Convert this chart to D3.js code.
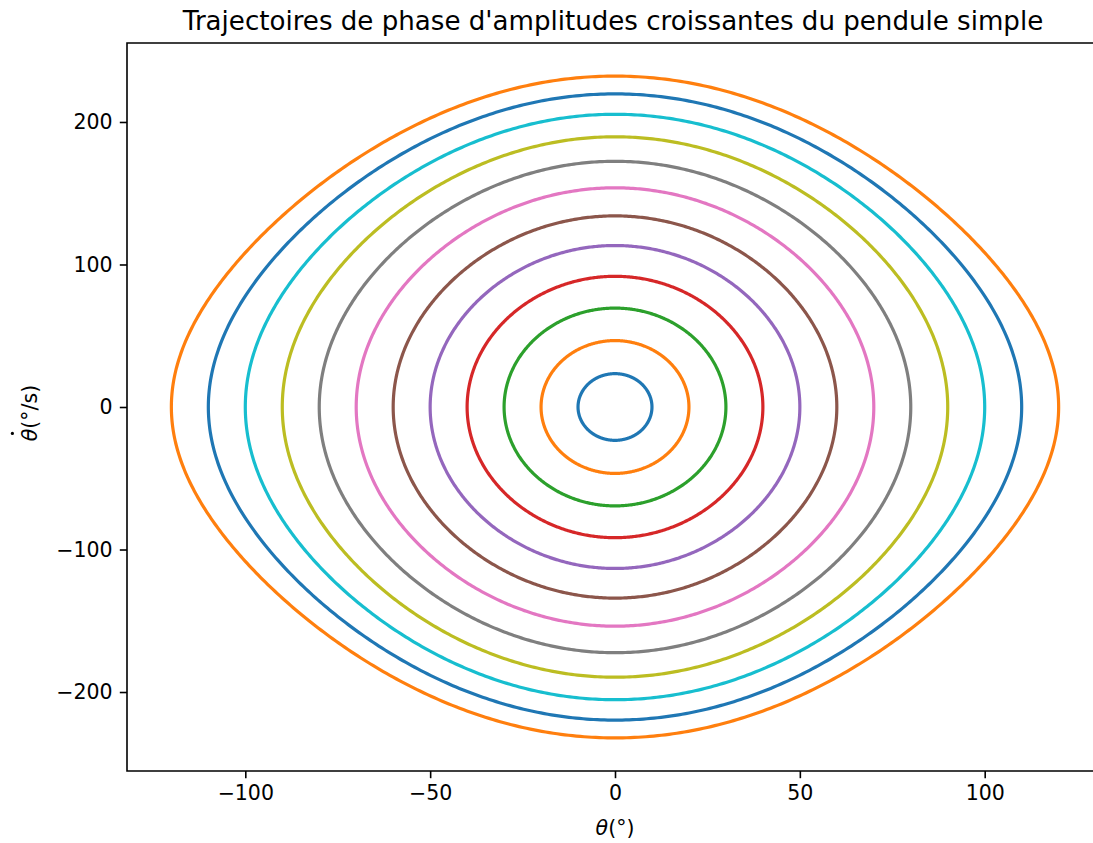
<!DOCTYPE html>
<html>
<head>
<meta charset="utf-8">
<script src="https://cdn.jsdelivr.net/npm/d3@7"></script>
<style>
  html, body { margin: 0; padding: 0; background: #fff; }
  svg { display: block; font-family: "DejaVu Sans", sans-serif; }
</style>
</head>
<body>
<svg id="chart" width="1093" height="843"></svg>
<script>
// Amplitude of each oscillation (degrees) and its peak angular speed at θ = 0 (°/s)
const amplitudes = [10, 20, 30, 40, 50, 60, 70, 80, 90, 100, 110, 120];
const peakSpeeds = [23.4, 46.6, 69.4, 91.7, 113.3, 134.1, 153.8, 172.4, 189.6, 205.4, 219.7, 232.2];
const xTicks = [-100, -50, 0, 50, 100];
const yTicks = [-200, -100, 0, 100, 200];
const palette = ["#1f77b4", "#ff7f0e", "#2ca02c", "#d62728", "#9467bd",
                 "#8c564b", "#e377c2", "#7f7f7f", "#bcbd22", "#17becf"];

const svg = d3.select("#chart");
const plotLeft = 127, plotTop = 43, plotBottom = 771, plotRight = 1103;
const tickFont = 20.5, titleFont = 26.1;

const maxA = d3.max(amplitudes), maxV = d3.max(peakSpeeds);
const x = d3.scaleLinear().domain([-maxA * 1.1, maxA * 1.1]).range([plotLeft, plotRight]);
const y = d3.scaleLinear().domain([-maxV * 1.1, maxV * 1.1]).range([plotBottom, plotTop]);

// Closed phase-space orbit: energy conservation gives θ̇ from θ
function orbit(A, V, n = 720) {
  const a = A * Math.PI / 180, c = Math.cos(a);
  const pts = [];
  for (let i = 0; i <= n; i++) {
    const t = 2 * Math.PI * i / n;
    const th = a * Math.cos(t);
    const r = Math.max(0, (Math.cos(th) - c) / (1 - c));
    const s = Math.sin(t) >= 0 ? -1 : 1;
    pts.push([th * 180 / Math.PI, s * V * Math.sqrt(r)]);
  }
  return pts;
}

const line = d3.line().x(d => x(d[0])).y(d => y(d[1]));

svg.append("g")
  .selectAll("path")
  .data(amplitudes.map((A, i) => ({ A, V: peakSpeeds[i], i })))
  .join("path")
  .attr("d", d => line(orbit(d.A, d.V)))
  .attr("fill", "none")
  .attr("stroke", d => palette[d.i % palette.length])
  .attr("stroke-width", 3.2);

// Axes
const fmt = d => d < 0 ? "\u2212" + Math.abs(d) : d;
const xAxis = svg.append("g")
  .attr("transform", `translate(0,${plotBottom})`)
  .call(d3.axisBottom(x).tickValues(xTicks).tickSize(7.2).tickPadding(7.2).tickFormat(fmt));
const yAxis = svg.append("g")
  .attr("transform", `translate(${plotLeft},0)`)
  .call(d3.axisLeft(y).tickValues(yTicks).tickSize(7.2).tickPadding(7.2).tickFormat(fmt));

[xAxis, yAxis].forEach(g => {
  g.selectAll("text").attr("font-size", tickFont).attr("fill", "#000")
    .attr("font-family", "DejaVu Sans, sans-serif");
  g.selectAll("line").attr("stroke", "#000").attr("stroke-width", 1.6);
  g.select(".domain").remove();
});

// Spines
svg.append("path")
  .attr("d", `M${plotRight},${plotTop}H${plotLeft}V${plotBottom}H${plotRight}`)
  .attr("fill", "none").attr("stroke", "#000").attr("stroke-width", 1.6);

// Title
svg.append("text")
  .attr("x", (plotLeft + plotRight) / 2 - 2).attr("y", 29.5)
  .attr("text-anchor", "middle")
  .attr("font-size", titleFont)
  .text("Trajectoires de phase d'amplitudes croissantes du pendule simple");

// x label: θ(°)
const xl = svg.append("text")
  .attr("x", (plotLeft + plotRight) / 2).attr("y", 835)
  .attr("text-anchor", "middle").attr("font-size", tickFont);
xl.append("tspan").attr("font-style", "italic").text("θ");
xl.append("tspan").text("(°)");

// y label: θ̇(°/s), dot accent drawn over the θ
const yg = svg.append("g")
  .attr("transform", `translate(37,${(plotTop + plotBottom) / 2 + 6}) rotate(-90)`);
const yl = yg.append("text").attr("font-size", tickFont);
const th = yl.append("tspan").attr("font-style", "italic").text("θ");
yl.append("tspan").text("(°/s)");
const w = yl.node().getComputedTextLength();
const thW = th.node().getComputedTextLength();
yl.attr("x", -w / 2);
yg.append("circle")
  .attr("cx", -w / 2 + thW * 0.62)
  .attr("cy", -tickFont * 1.2)
  .attr("r", 1.6)
  .attr("fill", "#000");
</script>
</body>
</html>
